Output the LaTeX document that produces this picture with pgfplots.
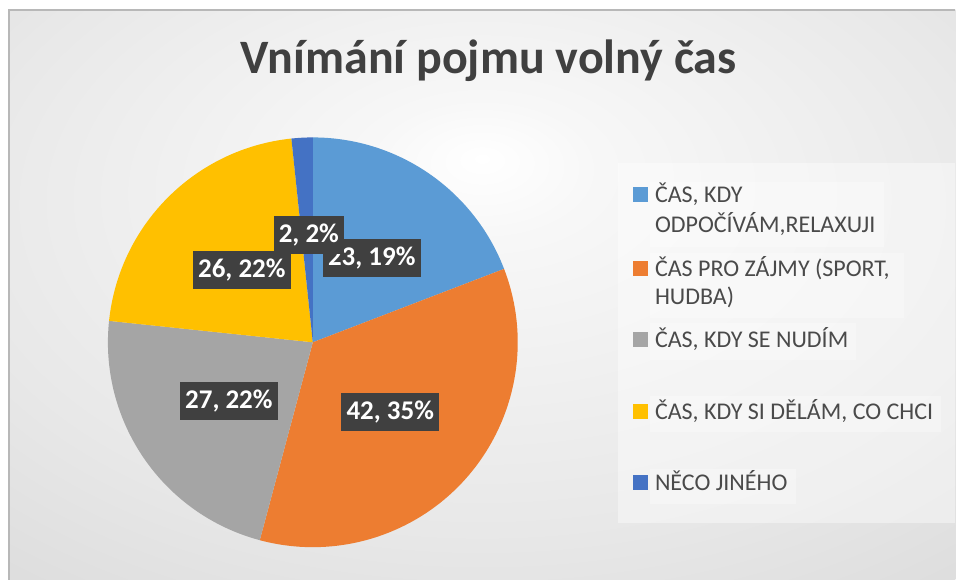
\documentclass[border=0pt]{standalone}
\usepackage{pgfplots}
\pgfplotsset{compat=1.18}
\usepackage{fontspec}
\setmainfont{Carlito}
\definecolor{cA}{HTML}{5B9BD5}
\definecolor{cB}{HTML}{ED7D31}
\definecolor{cC}{HTML}{A5A5A5}
\definecolor{cD}{HTML}{FFC000}
\definecolor{cE}{HTML}{4472C4}
\definecolor{ttl}{HTML}{404040}
\definecolor{txt}{HTML}{4A4A4A}
\definecolor{lbl}{HTML}{404040}
\pgfdeclareradialshading{bgshade}{\pgfpoint{0bp}{12bp}}{color(0bp)=(white); color(6bp)=(white!97!black); color(28bp)=(black!9); color(50bp)=(black!17); color(72bp)=(black!23)}
\tikzset{
  dlabel/.style={fill=lbl, text=white, font=\fontsize{13.5}{16}\selectfont\bfseries,
    inner xsep=2.6pt, inner ysep=0pt, minimum height=19pt, text height=9pt, text depth=1.5pt},
  ltext/.style={anchor=base west, inner sep=0pt, text=txt, font=\fontsize{12}{14}\selectfont},
}
\begin{document}
\begin{tikzpicture}
\begin{axis}[
  scale only axis, width=478pt, height=290pt,
  xmin=0, xmax=956, ymin=0, ymax=580,
  hide axis, clip=false,
]
% page and chart area
\fill[white] (axis cs:0,0) rectangle (axis cs:956,580);
\shade[shading=bgshade] (axis cs:9,0) rectangle (axis cs:956,570);
\draw[black!28, line width=0.6pt] (axis cs:9,0) -- (axis cs:9,570) -- (axis cs:956,570);
% title
\node[anchor=base, text=ttl, font=\fontsize{24}{28}\selectfont\bfseries, inner sep=0pt]
  at (axis cs:489,506) {Vnímání pojmu volný čas};
% pie from the values (total 120 -> 3 degrees per unit)
\pgfplotsextra{
  \gdef\cum{0}
  \foreach \v/\c in {23/cA, 42/cB, 27/cC, 26/cD, 2/cE} {
    \pgfmathsetmacro\a{90-\cum*3}
    \pgfmathsetmacro\b{90-(\cum+\v)*3}
    \fill[\c] (axis cs:313,237.5) -- (axis cs:{313+205*cos(\a)},{237.5+205*sin(\a)})
      arc[start angle=\a, end angle=\b, radius=102.5pt] -- cycle;
    \pgfmathsetmacro\tmp{\cum+\v}
    \xdef\cum{\tmp}
  }
}
% data labels
\node[dlabel] at (axis cs:372,322) {23, 19\%};
\node[dlabel] at (axis cs:309,344.5) {2, 2\%};
\node[dlabel] at (axis cs:242,309.5) {26, 22\%};
\node[dlabel] at (axis cs:229,178.5) {27, 22\%};
\node[dlabel] at (axis cs:390.5,167.5) {42, 35\%};
% legend
\fill[white, opacity=0.4] (axis cs:618,57) rectangle (axis cs:956,417);
\fill[white, opacity=0.3] (axis cs:650,333) rectangle (axis cs:885,398);
\fill[white, opacity=0.3] (axis cs:650,262) rectangle (axis cs:905,327);
\fill[white, opacity=0.3] (axis cs:650,220) rectangle (axis cs:857,257);
\fill[white, opacity=0.3] (axis cs:650,148) rectangle (axis cs:942,184);
\fill[white, opacity=0.3] (axis cs:650,76) rectangle (axis cs:796,111);
\fill[cA] (axis cs:633.5,377.5) rectangle (axis cs:648.5,392.5);
\fill[cB] (axis cs:633.5,303.5) rectangle (axis cs:648.5,318.5);
\fill[cC] (axis cs:633.5,232.5) rectangle (axis cs:648.5,247.5);
\fill[cD] (axis cs:633.5,160.5) rectangle (axis cs:648.5,175.5);
\fill[cE] (axis cs:633.5,89.5) rectangle (axis cs:648.5,104.5);
\node[ltext] at (axis cs:655,377.3) {ČAS, KDY};
\node[ltext] at (axis cs:655,347.3) {ODPOČÍVÁM,RELAXUJI};
\node[ltext] at (axis cs:655,303.3) {ČAS PRO ZÁJMY (SPORT,};
\node[ltext] at (axis cs:655,275.3) {HUDBA)};
\node[ltext] at (axis cs:655,232.3) {ČAS, KDY SE NUDÍM};
\node[ltext] at (axis cs:655,160.3) {ČAS, KDY SI DĚLÁM, CO CHCI};
\node[ltext] at (axis cs:655,89.3) {NĚCO JINÉHO};
\end{axis}
\end{tikzpicture}
\end{document}
